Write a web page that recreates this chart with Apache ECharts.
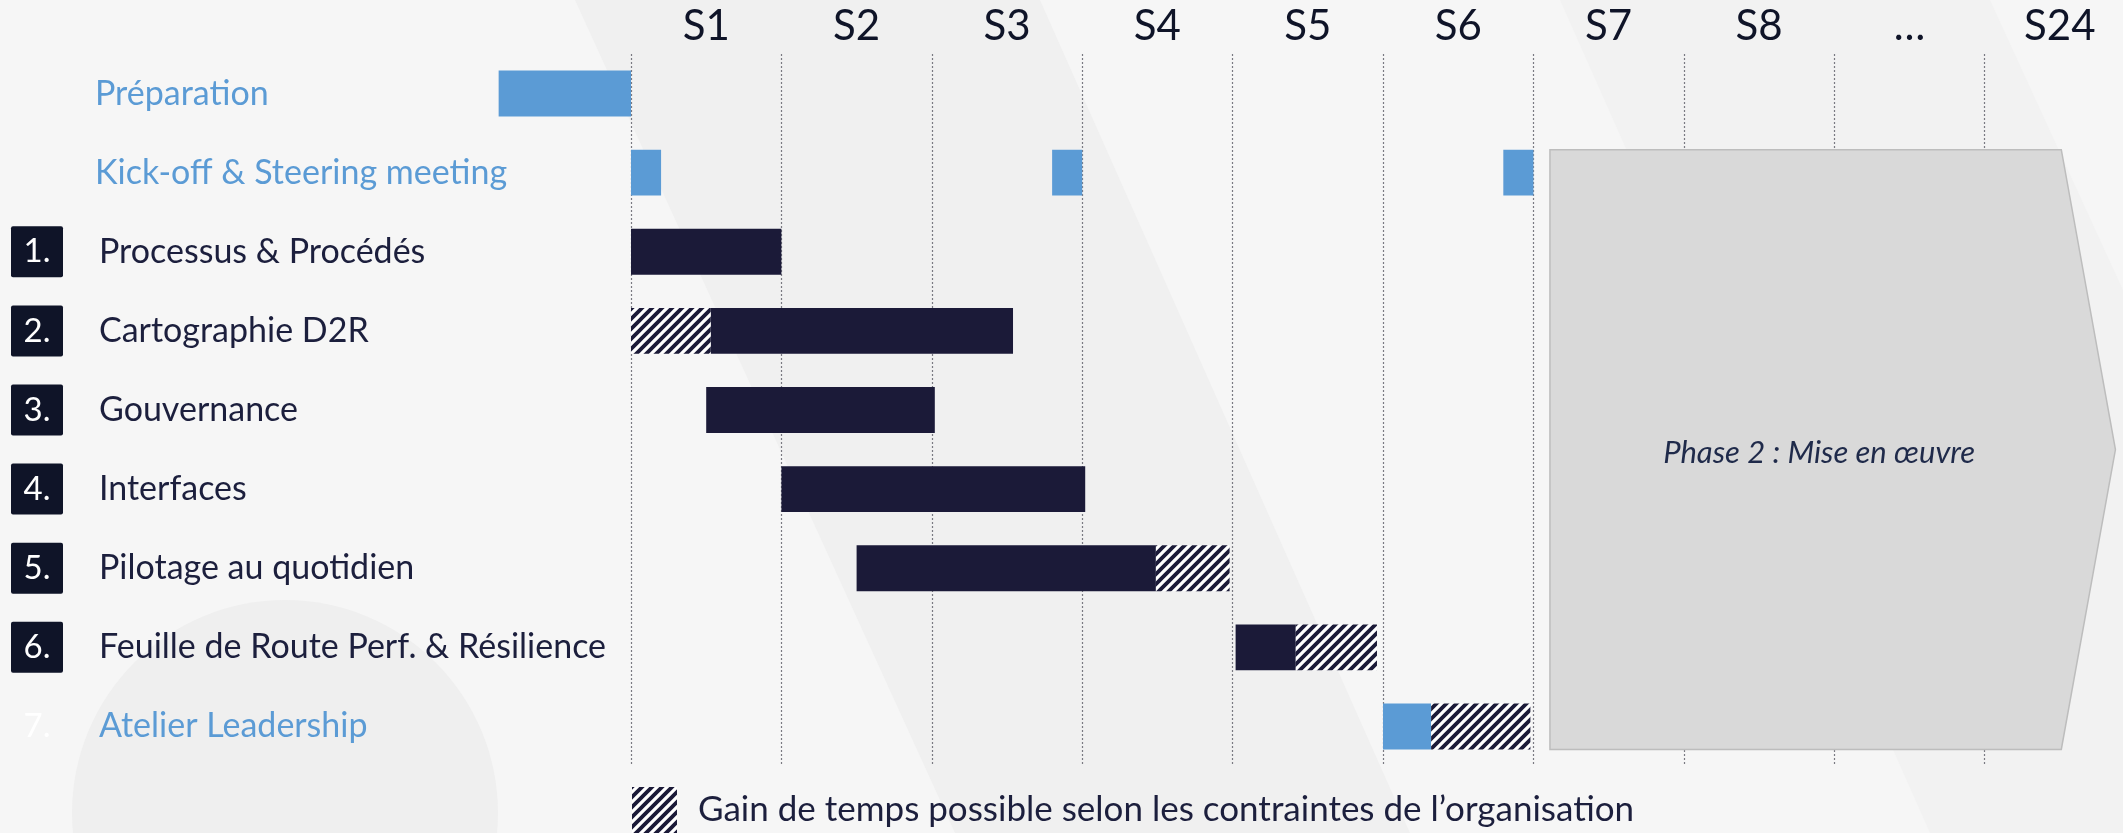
<!DOCTYPE html>
<html>
<head>
<meta charset="utf-8">
<title>Planning</title>
<script src="https://cdn.jsdelivr.net/npm/echarts@6.0.0/dist/echarts.min.js"></script>
<style>
  html, body { margin: 0; padding: 0; background: #f6f6f6; }
  #chart { width: 2123px; height: 833px; }
</style>
</head>
<body>
<div id="chart"></div>
<script>
// rows of the planning, top to bottom
const rows = [
  'Préparation',
  'Kick-off & Steering meeting',
  'Processus & Procédés',
  'Cartographie D2R',
  'Gouvernance',
  'Interfaces',
  'Pilotage au quotidien',
  'Feuille de Route Perf. & Résilience',
  'Atelier Leadership'
]
const rowNumbers = ['', '', '1.', '2.', '3.', '4.', '5.', '6.', '7.']
const blueRows = [0, 1, 8]

// week columns (one band per week, first and last band are margins)
const weekLabels = ['', 'S1', 'S2', 'S3', 'S4', 'S5', 'S6', 'S7', 'S8', '…', 'S24', '']

// [row, start, end] in weeks from the start of S1
const blueTasks = [
  [0, -0.88, 0],
  [1, 0, 0.2],
  [1, 2.8, 3.0],
  [1, 5.8, 6.0],
  [8, 5.0, 5.32]
]
const darkTasks = [
  [2, 0, 1],
  [3, 0.53, 2.54],
  [4, 0.5, 2.02],
  [5, 1, 3.02],
  [6, 1.5, 3.49],
  [7, 4.02, 4.42]
]
const slackTasks = [
  [3, 0, 0.53],
  [6, 3.49, 3.98],
  [7, 4.42, 4.96],
  [8, 5.32, 5.98]
]
// [start, end, arrow tip, first row, last row]
const phase2 = [[6.11, 9.51, 9.87, 1, 8]]
const phase2Label = 'Phase 2 : Mise en œuvre'
const slackName = 'Gain de temps possible selon les contraintes de l’organisation'

const FONT = 'Lato, "Open Sans", sans-serif'
const NAVY = '#1b1a38'
const BLUE = '#5b9bd5'
const TEXT = '#1c1f3d'

// striped fill for the slack segments
function makeHatch() {
  const p = 10
  const c = document.createElement('canvas')
  c.width = p
  c.height = p
  const ctx = c.getContext('2d')
  ctx.fillStyle = '#ffffff'
  ctx.fillRect(0, 0, p, p)
  ctx.strokeStyle = NAVY
  ctx.lineWidth = 3.8
  ctx.beginPath()
  ctx.moveTo(0, p); ctx.lineTo(p, 0)
  ctx.moveTo(-2, 2); ctx.lineTo(2, -2)
  ctx.moveTo(p - 2, p + 2); ctx.lineTo(p + 2, p - 2)
  ctx.stroke()
  return { image: c, repeat: 'repeat' }
}
const hatch = makeHatch()

function renderBar(params, api) {
  const row = api.value(0)
  const a = api.coord([api.value(1), row])
  const b = api.coord([api.value(2), row])
  const h = api.size([0, 1])[1] * 0.58
  return {
    type: 'rect',
    shape: { x: a[0], y: a[1] - h / 2, width: b[0] - a[0], height: h },
    style: { fill: api.visual('color') }
  }
}

function renderPhase(params, api) {
  const h = api.size([0, 1])[1] * 0.58 / 2
  const topLeft = api.coord([api.value(0), api.value(3)])
  const bottomLeft = api.coord([api.value(0), api.value(4)])
  const right = api.coord([api.value(1), api.value(3)])[0]
  const tip = api.coord([api.value(2), api.value(3)])[0]
  const left = topLeft[0]
  const top = topLeft[1] - h
  const bottom = bottomLeft[1] + h
  const mid = (top + bottom) / 2
  return {
    type: 'group',
    children: [
      {
        type: 'polygon',
        shape: { points: [[left, top], [right, top], [tip, mid], [right, bottom], [left, bottom]] },
        style: { fill: '#d9d9d9', stroke: '#bdbdbd', lineWidth: 1.5 }
      },
      {
        type: 'text',
        x: (left + right) / 2 + (tip - right) / 4,
        y: mid + 3,
        style: {
          text: phase2Label,
          fill: '#1f2a4a',
          font: 'italic 31px ' + FONT,
          align: 'center',
          verticalAlign: 'middle'
        }
      }
    ]
  }
}

const chart = echarts.init(document.getElementById('chart'))

chart.setOption({
  backgroundColor: '#f6f6f6',
  animation: false,
  graphic: [
    {
      type: 'polygon', z: -10, silent: true,
      shape: { points: [[575, 0], [1040, 0], [1410, 833], [955, 833]] },
      style: { fill: '#f0f0f0' }
    },
    {
      type: 'polygon', z: -10, silent: true,
      shape: { points: [[1560, 0], [1990, 0], [2123, 290], [2123, 833], [1930, 833]] },
      style: { fill: '#f2f2f2' }
    },
    {
      type: 'circle', z: -9, silent: true,
      shape: { cx: 285, cy: 813, r: 213 },
      style: { fill: '#efefef' }
    }
  ],
  grid: {
    left: 480.6,
    top: 54,
    width: 1804.8,
    bottom: 67,
    outerBoundsMode: 'none'
  },
  legend: {
    left: 632,
    top: 787,
    padding: 0,
    icon: 'rect',
    itemWidth: 45,
    itemHeight: 46,
    selectedMode: false,
    data: [slackName],
    textStyle: { fontFamily: FONT, fontSize: 35, color: TEXT, padding: [0, 0, 0, 16] }
  },
  xAxis: [
    {
      type: 'value',
      min: -1,
      max: 11,
      interval: 1,
      axisLine: { show: false },
      axisTick: { show: false },
      axisLabel: { show: false },
      splitLine: {
        show: true,
        showMinLine: false,
        showMaxLine: false,
        lineStyle: { color: '#7a7a82', type: [2, 2], width: 1.2 }
      }
    },
    {
      type: 'category',
      position: 'top',
      data: weekLabels,
      boundaryGap: true,
      axisLine: { show: false },
      axisTick: { show: false },
      splitLine: { show: false },
      axisLabel: {
        interval: 0,
        margin: 7,
        fontFamily: FONT,
        fontSize: 42,
        color: '#0f1428'
      }
    }
  ],
  yAxis: {
    type: 'category',
    inverse: true,
    data: rows,
    axisLine: { show: false },
    axisTick: { show: false },
    splitLine: { show: false },
    axisLabel: {
      interval: 0,
      align: 'left',
      margin: 469.6,
      formatter: function (value, index) {
        const num = rowNumbers[index]
        const blue = blueRows.indexOf(index) >= 0
        if (!num) return '{pad| }{blue|' + value + '}'
        if (blue) return '{ghost|' + num + '}{blueTxt|' + value + '}'
        return '{num|' + num + '}{txt|' + value + '}'
      },
      rich: {
        pad: { width: 84, fontSize: 34 },
        blue: { color: BLUE, fontFamily: FONT, fontSize: 34 },
        blueTxt: { color: BLUE, fontFamily: FONT, fontSize: 34, padding: [0, 0, 0, 36] },
        num: {
          width: 52, height: 51, lineHeight: 51, align: 'center',
          backgroundColor: '#0f1428', borderRadius: 2,
          color: '#ffffff', fontFamily: FONT, fontSize: 33
        },
        ghost: {
          width: 52, height: 51, lineHeight: 51, align: 'center',
          color: '#ffffff', fontFamily: FONT, fontSize: 33
        },
        txt: { color: TEXT, fontFamily: FONT, fontSize: 34, padding: [0, 0, 0, 36] }
      }
    }
  },
  series: [
    {
      name: 'Tâches',
      type: 'custom',
      xAxisIndex: 0,
      renderItem: renderBar,
      itemStyle: { color: NAVY },
      encode: { x: [1, 2], y: 0 },
      data: darkTasks
    },
    {
      name: 'Jalons',
      type: 'custom',
      xAxisIndex: 0,
      renderItem: renderBar,
      itemStyle: { color: BLUE },
      encode: { x: [1, 2], y: 0 },
      data: blueTasks
    },
    {
      name: slackName,
      type: 'custom',
      xAxisIndex: 0,
      renderItem: renderBar,
      itemStyle: { color: hatch },
      encode: { x: [1, 2], y: 0 },
      data: slackTasks
    },
    {
      name: 'Phase 2',
      type: 'custom',
      xAxisIndex: 0,
      renderItem: renderPhase,
      encode: { x: [0, 1, 2], y: [3, 4] },
      data: phase2
    }
  ]
})

window.addEventListener('resize', function () { chart.resize() })
</script>
</body>
</html>
